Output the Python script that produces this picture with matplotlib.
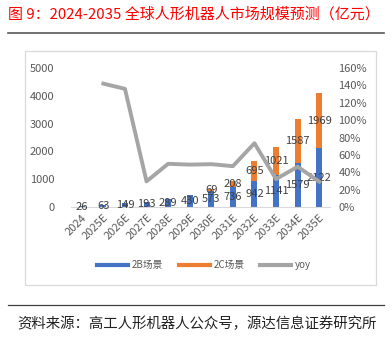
import matplotlib
matplotlib.use("Agg")
import matplotlib.pyplot as plt
from matplotlib.lines import Line2D
from matplotlib.patches import Rectangle
import numpy as np

plt.rcParams['font.family'] = ['Noto Sans CJK SC', 'DejaVu Sans']

years = ["2024", "2025E", "2026E", "2027E", "2028E", "2029E",
         "2030E", "2031E", "2032E", "2033E", "2034E", "2035E"]
to_b = [26, 63, 149, 193, 289, 430, 573, 736, 942, 1141, 1579, 2122]
to_c = [0, 0, 0, 0, 0, 0, 69, 208, 695, 1021, 1587, 1969]
yoy = [None, 1.42, 1.36, 0.295, 0.497, 0.488, 0.493, 0.47, 0.734, 0.321, 0.464, 0.292]

BLUE = "#4472C4"
ORANGE = "#ED7D31"
GRAY = "#A5A5A5"
TXT = "#595959"

W, H = 392, 342
fig = plt.figure(figsize=(W / 100, H / 100), dpi=100)

def fx(px):
    return px / W

def fy(py):
    return 1 - py / H

# heading and separators
fig.text(fx(8), fy(14), "图 9：2024-2035 全球人形机器人市场规模预测（亿元）",
         color="#FF0000", fontsize=10.8, va="center", ha="left")
fig.add_artist(Line2D([fx(8), fx(384)], [fy(33), fy(33)], color="#595959", lw=1.2))
fig.add_artist(Line2D([fx(8), fx(384)], [fy(305), fy(305)], color="#404040", lw=0.9))
fig.text(fx(17), fy(324), "资料来源：高工人形机器人公众号，源达信息证券研究所",
         color="#222222", fontsize=10.4, va="center", ha="left")

# chart frame
fig.add_artist(Rectangle((fx(25), fy(285)), fx(376) - fx(25), fy(51) - fy(285),
                         transform=fig.transFigure, fill=False,
                         edgecolor="#D9D9D9", lw=0.9))

ax = fig.add_axes([fx(71), fy(207), fx(330) - fx(71), fy(68) - fy(207)])
x = np.arange(len(years))
bw = 0.28
ax.bar(x, to_b, bw, color=BLUE, label="2B场景", zorder=2)
ax.bar(x, to_c, bw, bottom=to_b, color=ORANGE, label="2C场景", zorder=2)

for i in range(len(years)):
    ax.text(x[i], to_b[i] / 2, str(to_b[i]), ha="center", va="center",
            fontsize=8, color="#404040", zorder=4)
    if to_c[i] > 0:
        ax.text(x[i], to_b[i] + to_c[i] / 2, str(to_c[i]), ha="center", va="center",
                fontsize=8, color="#404040", zorder=4)

ax.set_xlim(-0.5, len(years) - 0.5)
ax.set_ylim(0, 5000)
ax.set_yticks(range(0, 5001, 1000))
ax.set_xticks(x)
ax.set_xticklabels(years, rotation=45, ha="right", rotation_mode="anchor")
ax.tick_params(axis="x", length=0, labelsize=8, labelcolor=TXT, pad=4)
ax.tick_params(axis="y", length=0, labelsize=8, labelcolor=TXT, pad=12)
for s in ["top", "right", "left"]:
    ax.spines[s].set_visible(False)
ax.spines["bottom"].set_color("#D9D9D9")

ax2 = ax.twinx()
yx = [x[i] for i in range(len(years)) if yoy[i] is not None]
yv = [v for v in yoy if v is not None]
ax2.plot(yx, yv, color=GRAY, lw=2.8, label="yoy", zorder=3)
ax2.set_ylim(0, 1.6)
ax2.set_yticks(np.arange(0, 1.61, 0.2))
ax2.set_yticklabels([f"{int(round(v * 100))}%" for v in np.arange(0, 1.61, 0.2)])
ax2.tick_params(axis="y", length=0, labelsize=8, labelcolor=TXT, pad=6)
for s in ["top", "right", "left", "bottom"]:
    ax2.spines[s].set_visible(False)

handles = [Line2D([], [], color=BLUE, lw=3),
           Line2D([], [], color=ORANGE, lw=3),
           Line2D([], [], color=GRAY, lw=3)]
fig.legend(handles, ["2B场景", "2C场景", "yoy"], loc="center",
           bbox_to_anchor=(fx(204), fy(265)), ncol=3, frameon=False,
           fontsize=7, labelcolor=TXT, handlelength=3.2, handletextpad=0.4,
           columnspacing=1.6)

fig.savefig("out.png", dpi=100)
